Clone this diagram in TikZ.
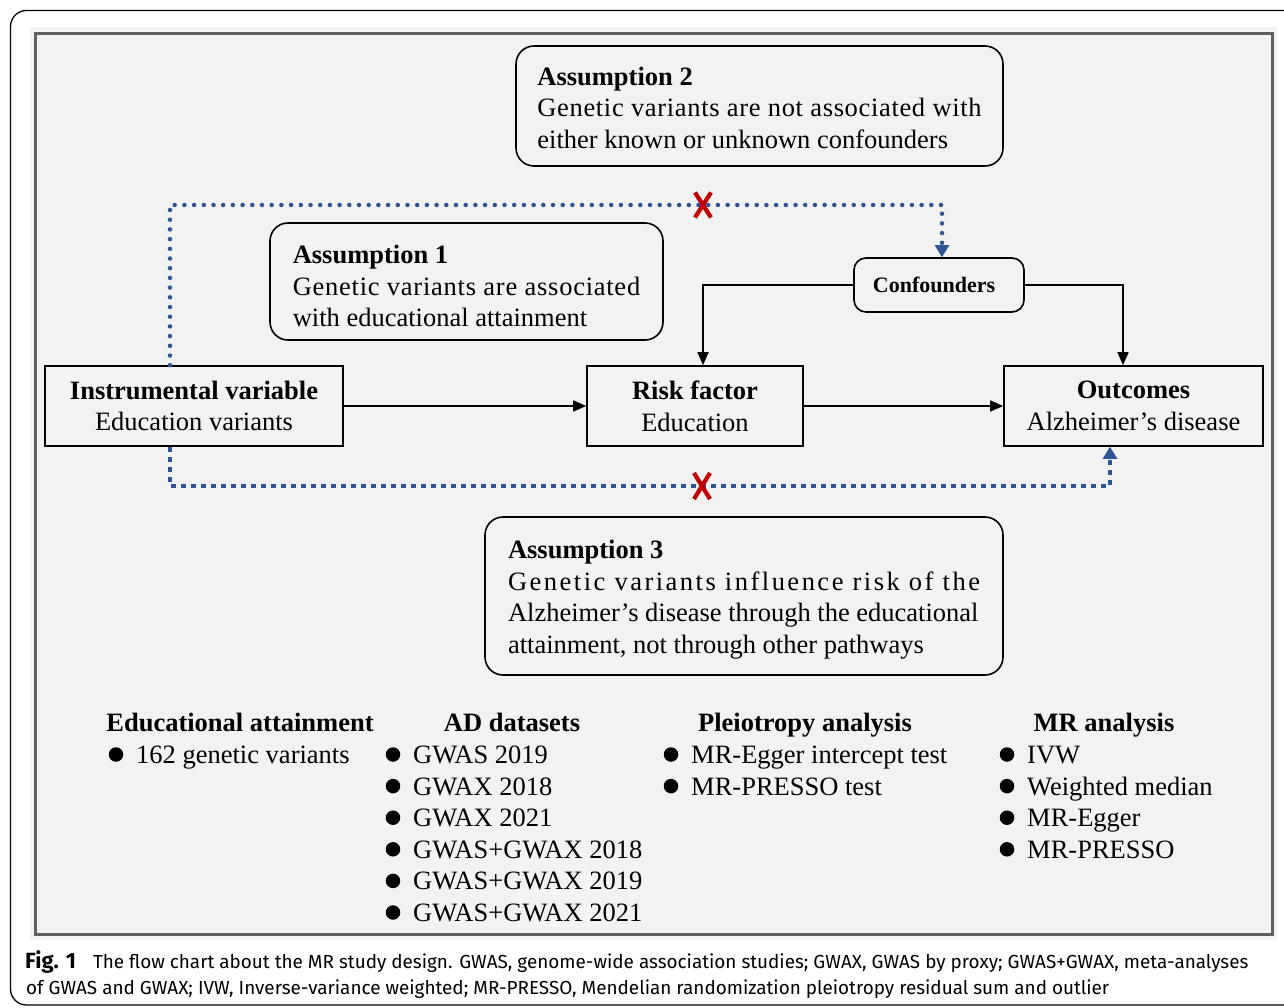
\documentclass[tikz,border=0pt]{standalone}
\usepackage{fontspec}
\setmainfont{Liberation Serif}
\newfontfamily\capfont{Fira Sans}
\usetikzlibrary{arrows.meta}
\definecolor{panelbg}{HTML}{F2F2F2}
\definecolor{panelline}{HTML}{5F5F5F}
\definecolor{dotblue}{HTML}{2F5597}
\definecolor{xred}{HTML}{C00000}
\tikzset{
  base/.style={font=\fontsize{26.5}{31.6}\selectfont},
  sbox/.style={base, draw=black, line width=1.6pt, fill=panelbg, inner sep=0pt, align=center},
  rbox/.style={sbox, rounded corners=18pt, align=left},
  arr/.style={-{Triangle[length=13pt,width=11pt]}, line width=1.6pt},
  dotline/.style={draw=dotblue, line width=4.5pt, dash pattern=on 0pt off 9.7pt, line cap=round,
     -{Triangle[length=12pt,width=14pt]}, dotblue},
  sqline/.style={draw=dotblue, line width=4.5pt, dash pattern=on 5pt off 5pt,
     -{Triangle[length=12pt,width=14pt]}, dotblue},
  xmark/.style={draw=xred, line width=4.2pt},
  head/.style={base, font=\fontsize{26.5}{32}\selectfont\bfseries, inner sep=0pt, anchor=base},
  itm/.style={base, inner sep=0pt, anchor=base west},
  bul/.style={circle, fill=black, minimum size=14.5pt, inner sep=0pt},
  captext/.style={font=\capfont\fontsize{18.9}{22}\selectfont, inner sep=0pt, anchor=base west}
}
\begin{document}
\begin{tikzpicture}[x=1pt,y=-1pt]
\useasboundingbox (0,0) rectangle (1284,1008);
\clip (0,0) rectangle (1284,1008);
\fill[white] (0,0) rectangle (1284,1008);
\draw[line width=1.3pt, rounded corners=16pt] (1330,10.5) -- (10.5,10.5) -- (10.5,1005) -- (1330,1005);
\fill[panelbg] (30,27) rectangle (1277,940);
\draw[panelline, line width=3pt] (35.5,34) rectangle (1272,934.5);

% assumption boxes
\node[rbox, minimum width=487pt, minimum height=120pt] (a2) at (759.5,106)
  {\rule{0pt}{21.6pt}\textbf{Assumption 2}\\{\addfontfeature{LetterSpace=2.5}Genetic variants are not associated with}\\either known or unknown confounders};
\node[rbox, minimum width=393pt, minimum height=117pt] (a1) at (466.5,281.5)
  {\rule{0pt}{27.6pt}\textbf{Assumption 1}\\{\addfontfeature{LetterSpace=2.8}Genetic variants are associated}\\with educational attainment};
\node[rbox, minimum width=518pt, minimum height=158pt] (a3) at (744,596)
  {\rule{0pt}{25.6pt}\textbf{Assumption 3}\\{\addfontfeature{LetterSpace=9.4}Genetic variants influence risk of the}\\Alzheimer’s disease through the educational\\attainment, not through other pathways};

% main boxes
\node[sbox, rounded corners=12pt, minimum width=170pt, minimum height=54pt, font=\fontsize{22}{26}\selectfont\bfseries] (conf) at (939,285) {Confounders\hspace{10pt}};
\node[sbox, minimum width=298pt, minimum height=80pt] (iv) at (194,406) {\textbf{Instrumental variable}\\Education variants};
\node[sbox, minimum width=216pt, minimum height=80pt] (rf) at (695,406) {\textbf{Risk factor}\\Education};
\node[sbox, minimum width=259pt, minimum height=80pt] (out) at (1133.5,406) {\textbf{Outcomes}\\Alzheimer’s disease};

% solid arrows
\draw[arr] (iv.east) -- (rf.west);
\draw[arr] (rf.east) -- (out.west);
\draw[arr] (conf.west) -| ([xshift=8pt]rf.north);
\draw[arr] (conf.east) -| ([xshift=-10.5pt]out.north);

% dotted paths
\coordinate (x1) at (703,205);
\coordinate (x2) at (702,486);
\draw[dotline] ([xshift=-24pt]iv.north) |- (x1) -| ([xshift=3pt]conf.north);
\draw[sqline] ([xshift=-24pt]iv.south) |- (x2) -| ([xshift=-23.5pt]out.south);
\draw[xmark] ([shift={(-8,-12.5)}]x1) -- ([shift={(8,12.5)}]x1);
\draw[xmark] ([shift={(8,-12.5)}]x1) -- ([shift={(-8,12.5)}]x1);
\draw[xmark] ([shift={(-8,-13)}]x2) -- ([shift={(8,13)}]x2);
\draw[xmark] ([shift={(8,-13)}]x2) -- ([shift={(-8,13)}]x2);

% lists
\node[head] (h1) at (240,731) {Educational attainment};
\node[head] (h2) at (512,731) {AD datasets};
\node[head] (h3) at (805,731) {Pleiotropy analysis};
\node[head] (h4) at (1104,731) {MR analysis};

\node[bul] (b1-1) at (116,754.5) {};
\node[itm] (t1-1) at (136,763.5) {162 genetic variants};
\foreach \t [count=\i] in {GWAS 2019, GWAX 2018, GWAX 2021, GWAS+GWAX 2018, GWAS+GWAX 2019, GWAS+GWAX 2021}{
  \node[bul] (b2-\i) at (393,{754.5+31.6*(\i-1)}) {};
  \node[itm] (t2-\i) at (413,{763.5+31.6*(\i-1)}) {\t};
}
\foreach \t [count=\i] in {MR-Egger intercept test, MR-PRESSO test}{
  \node[bul] (b3-\i) at (671,{754.5+31.6*(\i-1)}) {};
  \node[itm] (t3-\i) at (691,{763.5+31.6*(\i-1)}) {\t};
}
\foreach \t [count=\i] in {IVW, Weighted median, MR-Egger, MR-PRESSO}{
  \node[bul] (b4-\i) at (1007,{754.5+31.6*(\i-1)}) {};
  \node[itm] (t4-\i) at (1027,{763.5+31.6*(\i-1)}) {\t};
}

% caption
\node[captext] (cap1) at (25,968) {{\fontsize{22}{22}\selectfont\textbf{Fig. 1}}\hspace{17pt}The flow chart about the MR study design. GWAS, genome-wide association studies; GWAX, GWAS by proxy; GWAS+GWAX, meta-analyses};
\node[captext] (cap2) at (26,994) {of GWAS and GWAX; IVW, Inverse-variance weighted; MR-PRESSO, Mendelian randomization pleiotropy residual sum and outlier};
\end{tikzpicture}
\end{document}
